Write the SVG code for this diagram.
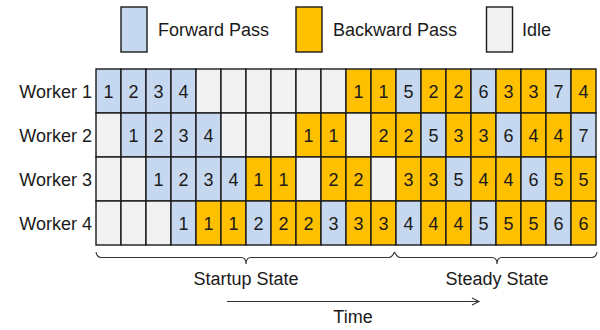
<svg xmlns="http://www.w3.org/2000/svg" width="600" height="330" viewBox="0 0 600 330">
<defs>
<style>
.f{fill:#C6D8EF;stroke:#1a1a1a;stroke-width:1.4}
.b{fill:#FFC000;stroke:#1a1a1a;stroke-width:1.4}
.i{fill:#F2F2F2;stroke:#1a1a1a;stroke-width:1.4}
text{font-family:"Liberation Sans",Arial,sans-serif;font-size:18px;fill:#1a1a1a}
.c{text-anchor:middle}
.r{text-anchor:end}
.ln{fill:none;stroke:#333;stroke-width:1.1}
</style>
<marker id="ah" markerWidth="10" markerHeight="10" refX="8" refY="5" orient="auto" markerUnits="userSpaceOnUse">
<path d="M1,1.5 L8,5 L1,8.5" fill="none" stroke="#333" stroke-width="1.1"/>
</marker>
</defs>
<rect width="600" height="330" fill="#fff"/>
<g id="legend">
<g id="legend-forward"><rect class="f" x="121" y="7" width="26" height="45"/><text x="158" y="36">Forward Pass</text></g>
<g id="legend-backward"><rect class="b" x="296" y="7" width="26" height="45"/><text x="333" y="36">Backward Pass</text></g>
<g id="legend-idle"><rect class="i" x="486.5" y="7" width="26" height="45"/><text x="522" y="36">Idle</text></g>
</g>
<g id="labels">
<text class="r" x="92" y="97.5">Worker 1</text>
<text class="r" x="92" y="141.5">Worker 2</text>
<text class="r" x="92" y="185.5">Worker 3</text>
<text class="r" x="92" y="229.5">Worker 4</text>
</g>
<g id="worker1">
<rect class="f" x="96" y="69" width="25" height="44"/><text class="c" x="108.5" y="97.5">1</text>
<rect class="f" x="121" y="69" width="25" height="44"/><text class="c" x="133.5" y="97.5">2</text>
<rect class="f" x="146" y="69" width="25" height="44"/><text class="c" x="158.5" y="97.5">3</text>
<rect class="f" x="171" y="69" width="25" height="44"/><text class="c" x="183.5" y="97.5">4</text>
<rect class="i" x="196" y="69" width="25" height="44"/>
<rect class="i" x="221" y="69" width="25" height="44"/>
<rect class="i" x="246" y="69" width="25" height="44"/>
<rect class="i" x="271" y="69" width="25" height="44"/>
<rect class="i" x="296" y="69" width="25" height="44"/>
<rect class="i" x="321" y="69" width="25" height="44"/>
<rect class="b" x="346" y="69" width="25" height="44"/><text class="c" x="358.5" y="97.5">1</text>
<rect class="b" x="371" y="69" width="25" height="44"/><text class="c" x="383.5" y="97.5">1</text>
<rect class="f" x="396" y="69" width="25" height="44"/><text class="c" x="408.5" y="97.5">5</text>
<rect class="b" x="421" y="69" width="25" height="44"/><text class="c" x="433.5" y="97.5">2</text>
<rect class="b" x="446" y="69" width="25" height="44"/><text class="c" x="458.5" y="97.5">2</text>
<rect class="f" x="471" y="69" width="25" height="44"/><text class="c" x="483.5" y="97.5">6</text>
<rect class="b" x="496" y="69" width="25" height="44"/><text class="c" x="508.5" y="97.5">3</text>
<rect class="b" x="521" y="69" width="25" height="44"/><text class="c" x="533.5" y="97.5">3</text>
<rect class="f" x="546" y="69" width="25" height="44"/><text class="c" x="558.5" y="97.5">7</text>
<rect class="b" x="571" y="69" width="25" height="44"/><text class="c" x="583.5" y="97.5">4</text>
</g>
<g id="worker2">
<rect class="i" x="96" y="113" width="25" height="44"/>
<rect class="f" x="121" y="113" width="25" height="44"/><text class="c" x="133.5" y="141.5">1</text>
<rect class="f" x="146" y="113" width="25" height="44"/><text class="c" x="158.5" y="141.5">2</text>
<rect class="f" x="171" y="113" width="25" height="44"/><text class="c" x="183.5" y="141.5">3</text>
<rect class="f" x="196" y="113" width="25" height="44"/><text class="c" x="208.5" y="141.5">4</text>
<rect class="i" x="221" y="113" width="25" height="44"/>
<rect class="i" x="246" y="113" width="25" height="44"/>
<rect class="i" x="271" y="113" width="25" height="44"/>
<rect class="b" x="296" y="113" width="25" height="44"/><text class="c" x="308.5" y="141.5">1</text>
<rect class="b" x="321" y="113" width="25" height="44"/><text class="c" x="333.5" y="141.5">1</text>
<rect class="i" x="346" y="113" width="25" height="44"/>
<rect class="b" x="371" y="113" width="25" height="44"/><text class="c" x="383.5" y="141.5">2</text>
<rect class="b" x="396" y="113" width="25" height="44"/><text class="c" x="408.5" y="141.5">2</text>
<rect class="f" x="421" y="113" width="25" height="44"/><text class="c" x="433.5" y="141.5">5</text>
<rect class="b" x="446" y="113" width="25" height="44"/><text class="c" x="458.5" y="141.5">3</text>
<rect class="b" x="471" y="113" width="25" height="44"/><text class="c" x="483.5" y="141.5">3</text>
<rect class="f" x="496" y="113" width="25" height="44"/><text class="c" x="508.5" y="141.5">6</text>
<rect class="b" x="521" y="113" width="25" height="44"/><text class="c" x="533.5" y="141.5">4</text>
<rect class="b" x="546" y="113" width="25" height="44"/><text class="c" x="558.5" y="141.5">4</text>
<rect class="f" x="571" y="113" width="25" height="44"/><text class="c" x="583.5" y="141.5">7</text>
</g>
<g id="worker3">
<rect class="i" x="96" y="157" width="25" height="44"/>
<rect class="i" x="121" y="157" width="25" height="44"/>
<rect class="f" x="146" y="157" width="25" height="44"/><text class="c" x="158.5" y="185.5">1</text>
<rect class="f" x="171" y="157" width="25" height="44"/><text class="c" x="183.5" y="185.5">2</text>
<rect class="f" x="196" y="157" width="25" height="44"/><text class="c" x="208.5" y="185.5">3</text>
<rect class="f" x="221" y="157" width="25" height="44"/><text class="c" x="233.5" y="185.5">4</text>
<rect class="b" x="246" y="157" width="25" height="44"/><text class="c" x="258.5" y="185.5">1</text>
<rect class="b" x="271" y="157" width="25" height="44"/><text class="c" x="283.5" y="185.5">1</text>
<rect class="i" x="296" y="157" width="25" height="44"/>
<rect class="b" x="321" y="157" width="25" height="44"/><text class="c" x="333.5" y="185.5">2</text>
<rect class="b" x="346" y="157" width="25" height="44"/><text class="c" x="358.5" y="185.5">2</text>
<rect class="i" x="371" y="157" width="25" height="44"/>
<rect class="b" x="396" y="157" width="25" height="44"/><text class="c" x="408.5" y="185.5">3</text>
<rect class="b" x="421" y="157" width="25" height="44"/><text class="c" x="433.5" y="185.5">3</text>
<rect class="f" x="446" y="157" width="25" height="44"/><text class="c" x="458.5" y="185.5">5</text>
<rect class="b" x="471" y="157" width="25" height="44"/><text class="c" x="483.5" y="185.5">4</text>
<rect class="b" x="496" y="157" width="25" height="44"/><text class="c" x="508.5" y="185.5">4</text>
<rect class="f" x="521" y="157" width="25" height="44"/><text class="c" x="533.5" y="185.5">6</text>
<rect class="b" x="546" y="157" width="25" height="44"/><text class="c" x="558.5" y="185.5">5</text>
<rect class="b" x="571" y="157" width="25" height="44"/><text class="c" x="583.5" y="185.5">5</text>
</g>
<g id="worker4">
<rect class="i" x="96" y="201" width="25" height="44"/>
<rect class="i" x="121" y="201" width="25" height="44"/>
<rect class="i" x="146" y="201" width="25" height="44"/>
<rect class="f" x="171" y="201" width="25" height="44"/><text class="c" x="183.5" y="229.5">1</text>
<rect class="b" x="196" y="201" width="25" height="44"/><text class="c" x="208.5" y="229.5">1</text>
<rect class="b" x="221" y="201" width="25" height="44"/><text class="c" x="233.5" y="229.5">1</text>
<rect class="f" x="246" y="201" width="25" height="44"/><text class="c" x="258.5" y="229.5">2</text>
<rect class="b" x="271" y="201" width="25" height="44"/><text class="c" x="283.5" y="229.5">2</text>
<rect class="b" x="296" y="201" width="25" height="44"/><text class="c" x="308.5" y="229.5">2</text>
<rect class="f" x="321" y="201" width="25" height="44"/><text class="c" x="333.5" y="229.5">3</text>
<rect class="b" x="346" y="201" width="25" height="44"/><text class="c" x="358.5" y="229.5">3</text>
<rect class="b" x="371" y="201" width="25" height="44"/><text class="c" x="383.5" y="229.5">3</text>
<rect class="f" x="396" y="201" width="25" height="44"/><text class="c" x="408.5" y="229.5">4</text>
<rect class="b" x="421" y="201" width="25" height="44"/><text class="c" x="433.5" y="229.5">4</text>
<rect class="b" x="446" y="201" width="25" height="44"/><text class="c" x="458.5" y="229.5">4</text>
<rect class="f" x="471" y="201" width="25" height="44"/><text class="c" x="483.5" y="229.5">5</text>
<rect class="b" x="496" y="201" width="25" height="44"/><text class="c" x="508.5" y="229.5">5</text>
<rect class="b" x="521" y="201" width="25" height="44"/><text class="c" x="533.5" y="229.5">5</text>
<rect class="f" x="546" y="201" width="25" height="44"/><text class="c" x="558.5" y="229.5">6</text>
<rect class="b" x="571" y="201" width="25" height="44"/><text class="c" x="583.5" y="229.5">6</text>
</g>
<g id="connectors">
<path id="brace-startup" class="ln" d="M96,252 Q97,257.5 101,257.5 L241,257.5 Q246,257.5 246,264 Q246,257.5 251,257.5 L389,257.5 Q392,257.5 394.5,252"/>
<path id="brace-steady" class="ln" d="M394.5,252 Q397,257.5 400,257.5 L492,257.5 Q497,257.5 497,264 Q497,257.5 502,257.5 L592,257.5 Q596,257.5 597,252"/>
<line id="time-arrow" class="ln" x1="227" y1="301.5" x2="479" y2="301.5" marker-end="url(#ah)"/>
</g>
<g id="annotations">
<text class="c" x="246" y="285">Startup State</text>
<text class="c" x="497" y="285">Steady State</text>
<text class="c" x="353" y="323">Time</text>
</g>
</svg>
